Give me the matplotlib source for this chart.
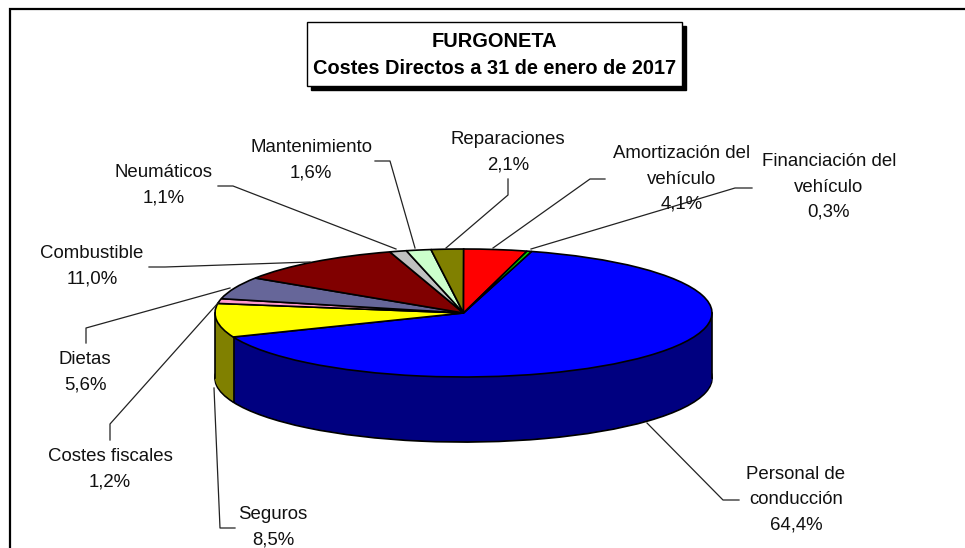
import numpy as np
import matplotlib
matplotlib.use("Agg")
import matplotlib.pyplot as plt
from matplotlib.patches import Rectangle

plt.rcParams['font.family'] = ['Liberation Sans', 'DejaVu Sans']

# DATA (clockwise from the top right)
categories = ["Personal de\nconducción", "Seguros", "Costes fiscales", "Dietas", "Combustible",
              "Neumáticos", "Mantenimiento", "Reparaciones", "Amortización del\nvehículo",
              "Financiación del\nvehículo"]
values = [64.4, 8.5, 1.2, 5.6, 11.0, 1.1, 1.6, 2.1, 4.1, 0.3]
colors = ["#0000FF", "#FFFF00", "#FF99CC", "#666699", "#800000",
          "#C0C0C0", "#CCFFCC", "#808000", "#FF0000", "#00DD00"]
side_colors = ["#000080", "#808000", "#7F4C66", "#33334C", "#400000",
               "#606060", "#668066", "#404000", "#800000", "#008000"]

# label centres and leader lines, in pixels
label_pos = [(796, 500), (273, 527), (110, 469), (85, 372), (92, 266),
             (164, 185), (311, 160), (508, 152), (682, 179), (829, 187)]
leaders = [
    [(647, 423), (723, 500), (739, 500)],
    [(214, 388), (220, 528), (235, 528)],
    [(218, 303), (110, 424), (110, 440)],
    [(230, 288), (86, 328), (86, 343)],
    [(310, 262), (165, 267), (149, 267)],
    [(396, 249), (233, 186), (218, 186)],
    [(415, 248), (390, 161), (375, 161)],
    [(446, 248), (508, 195), (508, 179)],
    [(493, 248), (590, 179), (605, 179)],
    [(531, 249), (735, 188), (752, 188)],
]

W, H = 965, 548
cx, cy, rx, ry, depth = 463.5, 313, 248.5, 64, 65
start = 74.1

fig = plt.figure(figsize=(W / 100, H / 100), dpi=100)

# overlay in pixel coordinates
over = fig.add_axes([0, 0, 1, 1], zorder=3)
over.set_xlim(0, W)
over.set_ylim(H, 0)
over.axis("off")

# pie axes: one unit is rx across and ry down, so circles come out as the ellipse
box_h = 2 * ry * 1.4
box_w = 2 * rx * 1.4
ax = fig.add_axes([(cx - box_w / 2) / W, 1 - (cy + box_h / 2) / H, box_w / W, box_h / H], zorder=1)
ax.patch.set_alpha(0)
unit = 1 / ry

# side of the cake: stacked copies from the bottom upward
for d in range(depth, 0, -1):
    edge = "black" if d == depth else "none"
    ax.pie(values, colors=side_colors, startangle=start, counterclock=False, center=(0, -d * unit),
           wedgeprops={"edgecolor": edge, "linewidth": 1.3 if d == depth else 0}, normalize=True)
# top
ax.pie(values, colors=colors, startangle=start, counterclock=False,
       wedgeprops={"edgecolor": "black", "linewidth": 1.2}, normalize=True)
ax.set_aspect("auto")
ax.set_xlim(-1.4, 1.4)
ax.set_ylim(-1.4, 1.4)

# vertical edges: the two rim extremes and the blue/olive boundary
edge_angle = np.radians(start - values[0] * 3.6)
for x in [-1, 1, np.cos(edge_angle)]:
    y = np.sin(edge_angle) if x == np.cos(edge_angle) else 0
    ax.plot([x, x], [y, y - depth * unit], color="black", lw=1.2)

# chart frame, open at the right and bottom
over.plot([10, 10, W], [H, 8.5, 8.5], color="black", lw=1.6, solid_joinstyle="miter")

# leader lines
for pts in leaders:
    xs, ys = zip(*pts)
    over.plot(xs, ys, color="#222222", lw=0.9)

# labels
for cat, val, (lx, ly) in zip(categories, values, label_pos):
    txt = cat + "\n" + f"{val:.1f}%".replace(".", ",")
    over.text(lx, ly, txt, ha="center", va="center", fontsize=13.4, color="#111111", linespacing=1.62)

# title box with shadow
over.add_patch(Rectangle((311, 26), 375, 64, facecolor="black", edgecolor="black", zorder=4))
over.add_patch(Rectangle((307, 22), 375, 64, facecolor="white", edgecolor="black", lw=1, zorder=5))
over.text(494.5, 55, "FURGONETA\nCostes Directos a 31 de enero de 2017", ha="center", va="center",
          fontsize=14.4, fontweight="bold", color="black", linespacing=1.55, zorder=6)

fig.savefig("out.png", dpi=100)
